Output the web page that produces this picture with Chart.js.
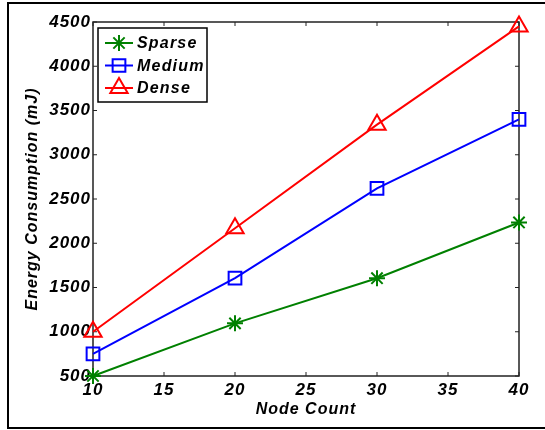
<!DOCTYPE html>
<html>
<head>
<meta charset="utf-8">
<script src="https://cdn.jsdelivr.net/npm/chart.js@4.4.1/dist/chart.umd.min.js"></script>
<style>
  html, body { margin: 0; padding: 0; background: #fff; }
  #wrap { width: 545px; height: 430px; position: relative; }
</style>
</head>
<body>
<div id="wrap"><canvas id="chart"></canvas></div>
<script>
// values
const nodeCounts = [10, 20, 30, 40];
const sparse = [500, 1095, 1605, 2235];
const medium = [750, 1605, 2620, 3400];
const dense = [1000, 2170, 3340, 4450];
const xTicks = [10, 15, 20, 25, 30, 35, 40];
const yTicks = [500, 1000, 1500, 2000, 2500, 3000, 3500, 4000, 4500];

const FONT = '"Liberation Sans", Arial, Helvetica, sans-serif';
Chart.defaults.font.family = FONT;
Chart.defaults.font.weight = 'bold';
Chart.defaults.font.style = 'italic';
Chart.defaults.color = '#000';

const series = [
  { label: 'Sparse', data: sparse, color: '#008000', style: 'star', radius: 8 },
  { label: 'Medium', data: medium, color: '#0000ff', style: 'rect', radius: 9 },
  { label: 'Dense', data: dense, color: '#ff0000', style: 'triangle', radius: 10 }
];

// frame, axes box with inward ticks, and the legend box
const boxPlugin = {
  id: 'boxPlugin',
  beforeDraw(chart) {
    const ctx = chart.ctx;
    // the original text is a bit spaced out
    ctx.letterSpacing = '1px';
    ctx.save();
    ctx.strokeStyle = '#000';
    ctx.lineWidth = 2;
    ctx.beginPath();
    ctx.moveTo(545, 3);
    ctx.lineTo(8, 3);
    ctx.lineTo(8, 428);
    ctx.lineTo(545, 428);
    ctx.stroke();
    ctx.restore();
  },
  beforeDatasetsDraw(chart) {
    const { ctx, chartArea: a, scales } = chart;
    ctx.save();
    ctx.strokeStyle = '#222';
    ctx.lineWidth = 1.5;
    ctx.strokeRect(a.left, a.top, a.right - a.left, a.bottom - a.top);
    ctx.lineWidth = 1;
    ctx.beginPath();
    xTicks.forEach(v => {
      const x = scales.x.getPixelForValue(v);
      ctx.moveTo(x, a.bottom); ctx.lineTo(x, a.bottom - 4);
      ctx.moveTo(x, a.top); ctx.lineTo(x, a.top + 4);
    });
    yTicks.forEach(v => {
      const y = scales.y.getPixelForValue(v);
      ctx.moveTo(a.left, y); ctx.lineTo(a.left + 4, y);
      ctx.moveTo(a.right, y); ctx.lineTo(a.right - 4, y);
    });
    ctx.stroke();
    ctx.restore();
  },
  afterDraw(chart) {
    const { ctx, chartArea: a } = chart;
    const x0 = a.left + 5, y0 = a.top + 6;
    ctx.save();
    ctx.fillStyle = '#fff';
    ctx.fillRect(x0, y0, 109, 74);
    ctx.strokeStyle = '#000';
    ctx.lineWidth = 1.5;
    ctx.strokeRect(x0, y0, 109, 74);
    ctx.font = 'italic bold 16px ' + FONT;
    ctx.letterSpacing = '1.2px';
    ctx.textBaseline = 'middle';
    series.forEach((s, i) => {
      const y = y0 + 15 + i * 22.5;
      ctx.strokeStyle = s.color;
      ctx.fillStyle = 'rgba(0,0,0,0)';
      ctx.lineWidth = 2;
      ctx.beginPath();
      ctx.moveTo(x0 + 7, y); ctx.lineTo(x0 + 35, y);
      ctx.stroke();
      Chart.helpers.drawPoint(ctx, {
        pointStyle: s.style, radius: s.radius, borderWidth: 2, rotation: 0
      }, x0 + 21, y);
      ctx.fillStyle = '#000';
      ctx.fillText(s.label, x0 + 39, y + 1);
    });
    ctx.restore();
  }
};

new Chart(document.getElementById('chart'), {
  type: 'line',
  data: {
    datasets: series.map(s => ({
      label: s.label,
      data: nodeCounts.map((n, i) => ({ x: n, y: s.data[i] })),
      borderColor: s.color,
      backgroundColor: 'rgba(0,0,0,0)',
      borderWidth: 2,
      pointStyle: s.style,
      pointRadius: s.radius,
      pointBorderWidth: 2,
      pointBorderColor: s.color,
      pointBackgroundColor: 'rgba(0,0,0,0)',
      tension: 0,
      clip: false
    }))
  },
  options: {
    responsive: true,
    maintainAspectRatio: false,
    animation: false,
    layout: { padding: { top: 22, right: 26, left: 0, bottom: 0 } },
    plugins: { legend: { display: false }, tooltip: { enabled: false } },
    scales: {
      x: {
        type: 'linear',
        min: 10,
        max: 40,
        afterBuildTicks: scale => { scale.ticks = xTicks.map(v => ({ value: v })); },
        afterFit: scale => { scale.height = 54; },
        grid: { display: false, drawTicks: false },
        border: { display: false },
        ticks: { padding: 4, font: { size: 17 } },
        title: {
          display: true,
          text: 'Node Count',
          font: { size: 16 },
          padding: { top: 0, bottom: 11 }
        }
      },
      y: {
        min: 500,
        max: 4500,
        afterBuildTicks: scale => { scale.ticks = yTicks.map(v => ({ value: v })); },
        afterFit: scale => { scale.width = 93; },
        grid: { display: false, drawTicks: false },
        border: { display: false },
        ticks: { padding: 2, font: { size: 17 }, callback: v => String(v) },
        title: {
          display: true,
          text: 'Energy Consumption (mJ)',
          font: { size: 16 },
          padding: { top: 23, bottom: 0 }
        }
      }
    }
  },
  plugins: [boxPlugin]
});
</script>
</body>
</html>
